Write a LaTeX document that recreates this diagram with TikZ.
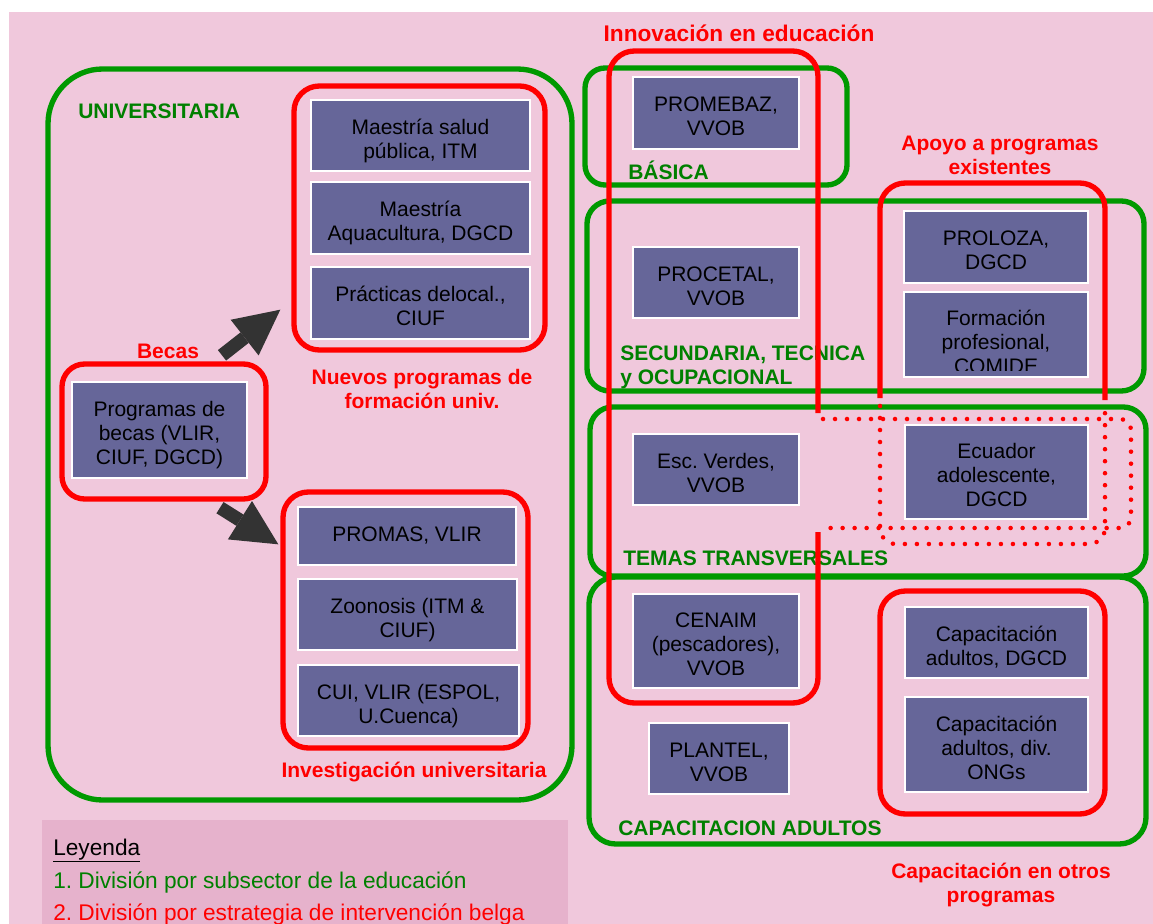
\documentclass[tikz,border=0pt]{standalone}
\usepackage{fontspec}
\setmainfont{Liberation Sans}
\usetikzlibrary{arrows.meta}
\frenchspacing
\definecolor{bgpink}{RGB}{240,200,220}
\definecolor{legpink}{RGB}{230,178,204}
\definecolor{boxblue}{RGB}{102,102,153}
\definecolor{frgreen}{RGB}{0,153,0}
\definecolor{txgreen}{RGB}{0,128,0}
\definecolor{frred}{RGB}{255,0,0}
\definecolor{arrgray}{RGB}{51,51,51}
% struts for the multi-line boxes
\newcommand{\bxt}[1]{\rule{0pt}{19.5pt}#1\rule[-3.5pt]{0pt}{3.5pt}}

\begin{document}
\begin{tikzpicture}[x=0.75pt, y=-0.75pt,
  every node/.style={font=\fontsize{15.75}{18}\selectfont},
  wh/.style 2 args={minimum width=#1*0.75pt, minimum height=#2*0.75pt},
  pbox/.style={fill=boxblue, draw=white, line width=1.2pt, align=center,
               inner sep=0pt, text=black},
  gframe/.style={draw=frgreen, line width=4pt},
  rframe/.style={draw=frred, line width=4pt},
  rdots/.style={draw=frred, line width=3.4pt, line cap=round, dash pattern=on 0pt off 9pt},
  glabel/.style={font=\fontsize{15.75}{18}\selectfont\bfseries, text=txgreen,
                 align=left, inner sep=0pt, anchor=west},
  rlabel/.style={font=\fontsize{15.75}{18}\selectfont\bfseries, text=frred,
                 align=center, inner sep=0pt},
  legtext/.style={font=\fontsize{17}{24}\selectfont, anchor=base west, inner sep=0pt},
  bigarrow/.style={draw=arrgray, line width=10pt,
                   -{Triangle[length=34pt, width=34pt, line width=0pt]}}]
  \useasboundingbox (0,0) rectangle (1153,924);
  \fill[white] (0,0) rectangle (1153,924);
  \fill[bgpink] (9,12) rectangle (1153,924);

  % Legend
  \fill[legpink] (42,820) rectangle (568,924);
  \node[legtext] (leyenda) at (53,855) {\underline{Leyenda}};
  \node[legtext, text=txgreen] (ley1) at (53,888) {1. División por subsector de la educación};
  \node[legtext, text=frred] (ley2) at (53,920) {2. División por estrategia de intervención belga};

  % Green frames: subsectors
  \node[gframe, rounded corners=41pt, wh={524}{731}] (univframe) at (310,434.5) {};
  \node[gframe, rounded corners=15pt, wh={262}{117}] (basicaframe) at (716,126.5) {};
  \node[gframe, rounded corners=17pt, wh={557}{190}] (secframe) at (865.5,296) {};
  \node[gframe, rounded corners=17pt, wh={556}{169}] (temasframe) at (868,491.5) {};
  \node[gframe, rounded corners=20pt, wh={557}{267}] (capframe) at (867.5,710.5) {};

  % LEFT: university programmes
  \node[pbox, wh={219}{71}] (salud) at (420.5,135.5) {\bxt{Maestría salud\\pública, ITM}};
  \node[pbox, wh={219}{72}] (aqua) at (420.5,218) {\bxt{Maestría\\Aquacultura, DGCD}};
  \node[pbox, wh={219}{72}] (practicas) at (420.5,303) {\bxt{Prácticas delocal.,\\CIUF}};
  \node[pbox, wh={175}{96}] (becas) at (159.5,430) {\bxt{Programas de\\becas (VLIR,\\CIUF, DGCD)}};
  \node[pbox, wh={218}{58}] (promas) at (407,536) {PROMAS, VLIR};
  \node[pbox, wh={219}{71}] (zoonosis) at (407.5,614.5) {\bxt{Zoonosis (ITM \&\\CIUF)}};
  \node[pbox, wh={221}{71}] (cui) at (408.5,700.5) {\bxt{CUI, VLIR (ESPOL,\\U.Cuenca)}};

  % RIGHT: other subsectors
  \node[pbox, wh={166}{72}] (promebaz) at (716,113) {\bxt{PROMEBAZ,\\VVOB}};
  \node[pbox, wh={166}{71}] (procetal) at (716,282.5) {\bxt{PROCETAL,\\VVOB}};
  \node[pbox, wh={184}{72}] (proloza) at (996,247) {\bxt{PROLOZA,\\DGCD}};
  \node[pbox, wh={184}{85}, path picture={
      \clip ([yshift=5.25pt]path picture bounding box.south west)
        rectangle (path picture bounding box.north east);
      \node[draw=none, fill=none, text=black, align=center, inner sep=0pt]
        at ([yshift=-3.4pt]path picture bounding box.center)
        {\bxt{Formación\\profesional,\\COMIDE}};}] (formacion) at (996,334.5) {};
  \node[pbox, wh={166}{71}] (escverdes) at (716,469.5) {\bxt{Esc. Verdes,\\VVOB}};
  \node[pbox, wh={183}{94}] (ecuador) at (996.5,472) {\bxt{Ecuador\\adolescente,\\DGCD}};
  \node[pbox, wh={166}{94}] (cenaim) at (716,641) {\bxt{CENAIM\\(pescadores),\\VVOB}};
  \node[pbox, wh={140}{71}] (plantel) at (719,758.5) {\bxt{PLANTEL,\\VVOB}};
  \node[pbox, wh={183}{71}] (capdgcd) at (996.5,642.5) {\bxt{Capacitación\\adultos, DGCD}};
  \node[pbox, wh={183}{95}] (capongs) at (996.5,744.5) {\bxt{Capacitación\\adultos, div.\\ONGs}};

  % Labels
  \node[glabel] (univlabel) at (78,111) {UNIVERSITARIA};
  \node[glabel] (basicalabel) at (628,170) {BÁSICA};
  \node[glabel] (seclabel) at (620,367.5) {SECUNDARIA, TECNICA\\y OCUPACIONAL};
  \node[glabel] (temaslabel) at (623,558) {TEMAS TRANSVERSALES};
  \node[glabel] (caplabel) at (618,828) {CAPACITACION ADULTOS};
  \node[rlabel] (becaslabel) at (168,351) {Becas};
  \node[rlabel] (nuevoslabel) at (422,389) {Nuevos programas de\\formación univ.};
  \node[rlabel] (investlabel) at (414,772) {Investigación universitaria};
  \node[rlabel, font=\fontsize{17}{18}\selectfont\bfseries] (innovlabel) at (739,33) {Innovación en educación};
  \node[rlabel] (apoyolabel) at (1000,155) {Apoyo a programas\\existentes};
  \node[rlabel] (otroslabel) at (1001,885) {Capacitación en otros\\programas};

  % Red frames: Belgian strategies
  \node[rframe, rounded corners=19pt, wh={251}{264}] (nuevosframe) at (419.5,218) {};
  \node[rframe, rounded corners=17pt, wh={204}{135}] (becasframe) at (164,431.5) {};
  \node[rframe, rounded corners=19pt, wh={245}{256}] (investframe) at (405.5,620) {};
  \node[rframe, rounded corners=19pt, wh={225}{223}] (capredframe) at (992.5,702.5) {};
  \draw[rframe, rounded corners=19pt] (818,413) -- (818,51) -- (609,51) -- (609,703)
    -- (818,703) -- (818,532);
  \draw[rdots, rounded corners=8pt] (823,419) -- (1131,419) -- (1131,528) -- (823,528);
  \draw[rframe, rounded corners=19pt] (880,398) -- (880,183) -- (1105,183) -- (1105,400);
  \draw[rdots, rounded corners=12pt] (880,406) -- (880,544) -- (1105,544) -- (1105,406);

  % Becas arrows
  \coordinate (up1) at ([shift={(58,-6)}]becasframe.north);
  \coordinate (up2) at ([shift={(-11,-43)}]nuevosframe.south west);
  \coordinate (dn1) at ([shift={(56,6)}]becasframe.south);
  \coordinate (dn2) at ([shift={(-2,55)}]investframe.north west);
  \draw[bigarrow] (up1) -- (up2);
  \draw[bigarrow] (dn1) -- (dn2);
\end{tikzpicture}
\end{document}
